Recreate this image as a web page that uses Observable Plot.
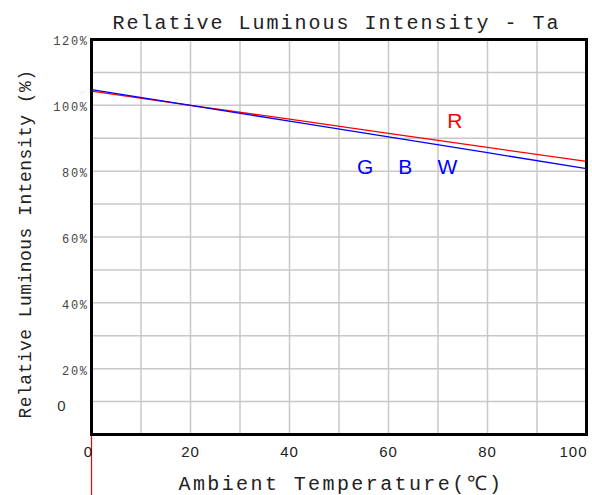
<!DOCTYPE html>
<html>
<head>
<meta charset="utf-8">
<script src="https://cdn.jsdelivr.net/npm/d3@7"></script>
<script src="https://cdn.jsdelivr.net/npm/@observablehq/plot@0.6"></script>
<style>
  html, body { margin: 0; padding: 0; background: #fff; }
</style>
</head>
<body>
<div id="chart"></div>
<script>
// ---- data ----
const temps = [0, 20, 40, 60, 80, 100];
const redValues = [104.3, 100.0, 95.8, 91.5, 87.2, 83.0];
const blueValues = [104.8, 100.0, 95.2, 90.4, 85.6, 80.8];

const seriesLabels = ["R", "G", "B", "W"];
const seriesLabelX = [73.4, 55.3, 63.4, 71.9];
const seriesLabelY = [95.1, 81.3, 81.3, 81.3];
const seriesLabelColor = ["red", "blue", "blue", "blue"];

const xTickValues = [20, 40, 60, 80];
const xFirstTick = 0;
const xLastTick = 100;
const yTickValues = [120, 100, 80, 60, 40, 20];
const yTickLabels = ["120%", "100%", "80%", "60%", "40%", "20%"];
const yZeroLabel = "0";
const xGrid = [0, 10, 20, 30, 40, 50, 60, 70, 80, 90, 100];
const yGrid = [0, 10, 20, 30, 40, 50, 60, 70, 80, 90, 100, 110, 120];

const titleText = "Relative Luminous Intensity - Ta";
const xLabelText = "Ambient Temperature(℃)";
const yLabelText = "Relative Luminous Intensity (%)";

// ---- build tables ----
const redData = temps.map((t, i) => ({t, v: redValues[i]}));
const blueData = temps.map((t, i) => ({t, v: blueValues[i]}));
const labelData = seriesLabels.map((s, i) => ({s, x: seriesLabelX[i], y: seriesLabelY[i], c: seriesLabelColor[i]}));
const yTickData = yTickValues.map((v, i) => ({v, l: yTickLabels[i]}));

const mono = "'Liberation Mono', 'DejaVu Sans Mono', monospace";
const sans = "'Liberation Sans', Arial, sans-serif";

const plot = Plot.plot({
  width: 592,
  height: 495,
  marginLeft: 91,
  marginRight: 6,
  marginTop: 39,
  marginBottom: 61,
  x: {domain: [0, 100], axis: null},
  y: {domain: [0, 120], axis: null},
  marks: [
    Plot.gridX(xGrid, {stroke: "#c8c8c8", strokeOpacity: 1, strokeWidth: 1.5}),
    Plot.gridY(yGrid, {stroke: "#c8c8c8", strokeOpacity: 1, strokeWidth: 1.5}),
    Plot.line(redData, {x: "t", y: "v", stroke: "#ff0000", strokeWidth: 1.3}),
    Plot.line(blueData, {x: "t", y: "v", stroke: "#0000ff", strokeWidth: 1.3}),
    Plot.frame({stroke: "black", strokeWidth: 3}),
    Plot.ruleX([0], {y1: -0.6, y2: -19, stroke: "#ff0000", strokeOpacity: 1, strokeWidth: 1.2}),
    Plot.text(labelData, {x: "x", y: "y", text: "s", fill: "c", fontFamily: sans, fontSize: 21}),
    // x tick labels
    Plot.text(xTickValues, {x: d => d, text: d => String(d), frameAnchor: "bottom", lineAnchor: "middle", textAnchor: "middle",
      dy: 18, fontFamily: sans, fontSize: 15, fill: "#222"}),
    Plot.text([xFirstTick], {x: d => d, text: d => String(d), frameAnchor: "bottom", lineAnchor: "middle", textAnchor: "middle",
      dy: 18, dx: -3, fontFamily: sans, fontSize: 15, fill: "#222"}),
    Plot.text([xLastTick], {x: d => d, text: d => String(d), frameAnchor: "bottom", lineAnchor: "middle", textAnchor: "end",
      dy: 18, dx: 1, fontFamily: sans, fontSize: 15, fill: "#222"}),
    // y tick labels
    Plot.text(yTickData, {y: "v", text: "l", frameAnchor: "left", lineAnchor: "middle", textAnchor: "end", dx: -3, dy: 2,
      fontFamily: mono, fontSize: 12, fill: "#444"}),
    Plot.text([yZeroLabel], {y: 0, text: d => d, frameAnchor: "left", lineAnchor: "middle", textAnchor: "end", dx: -25, dy: -28,
      fontFamily: sans, fontSize: 15, fill: "#333"}),
    // title
    Plot.text([titleText], {frameAnchor: "top-left", lineAnchor: "middle", textAnchor: "start", dy: -17, dx: 21,
      fontFamily: mono, fontSize: 20, fill: "#222"}),
    // x label
    Plot.text([xLabelText], {frameAnchor: "bottom-left", lineAnchor: "middle", textAnchor: "start", dy: 49, dx: 87,
      fontFamily: mono, fontSize: 20, fill: "#222"}),
    // y label
    Plot.text([yLabelText], {frameAnchor: "left", lineAnchor: "middle", textAnchor: "middle", dx: -66, dy: 7, rotate: -90,
      fontFamily: mono, fontSize: 18, fill: "#222"})
  ]
});

function spacing(content, ls) {
  d3.select(plot).selectAll("text")
    .filter(function() { return this.textContent === content; })
    .attr("letter-spacing", ls);
}
spacing(titleText, "2px");
spacing(xLabelText, "2.4px");
spacing(yLabelText, "0.45px");
yTickLabels.forEach(l => spacing(l, "1.6px"));
[...xTickValues, xFirstTick, xLastTick].forEach(v => spacing(String(v), "1px"));

document.getElementById("chart").appendChild(plot);
</script>
</body>
</html>
